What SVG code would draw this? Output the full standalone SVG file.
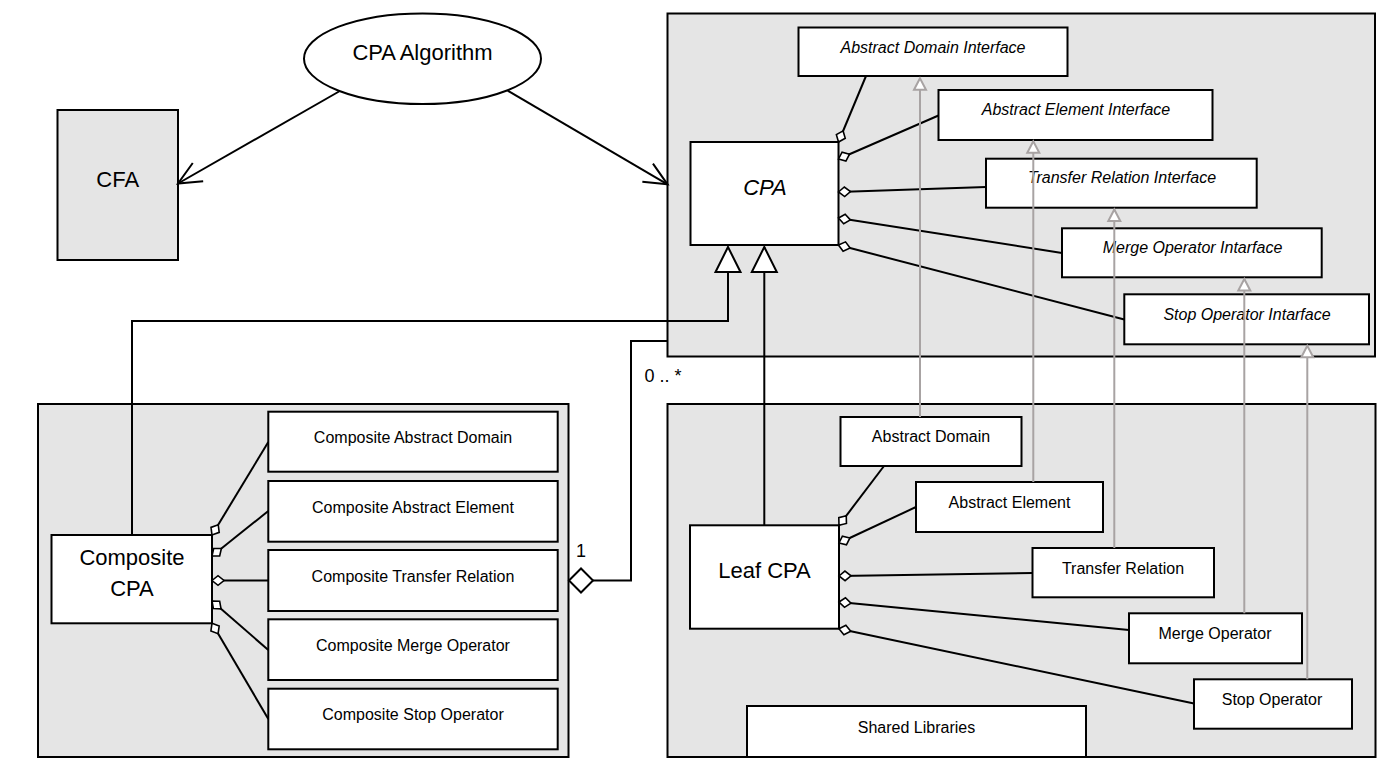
<svg xmlns="http://www.w3.org/2000/svg" width="1395" height="774" viewBox="0 0 1395 774">
<style>
.bg{fill:#fff}
.cont{fill:#e5e5e5;stroke:#000;stroke-width:2}
.box{fill:#fff;stroke:#000;stroke-width:2}
.t{font-family:"Liberation Sans",Arial,sans-serif;fill:#000;text-anchor:middle}
.big{font-size:22px}
.sm{font-size:16px}
.lab{font-size:18px}
.it{font-style:italic}
.ln{fill:none;stroke:#000;stroke-width:2}
.agg{marker-start:url(#dia)}
.gray{fill:none;stroke:#a8a3a3;stroke-width:2;marker-end:url(#gtri)}
</style>
<defs>
<marker id="dia" markerUnits="userSpaceOnUse" orient="auto" refX="0" refY="0" markerWidth="14" markerHeight="12" overflow="visible"><path d="M0,0 L6,-4.8 L12,0 L6,4.8 z" fill="#fff" stroke="#000" stroke-width="1.6"/></marker>
<marker id="bigdia" markerUnits="userSpaceOnUse" orient="auto" refX="0" refY="0" markerWidth="26" markerHeight="26" overflow="visible"><path d="M0,0 L12,-12 L24,0 L12,12 z" fill="#fff" stroke="#000" stroke-width="2"/></marker>
<marker id="tri" markerUnits="userSpaceOnUse" orient="auto" refX="0" refY="0" markerWidth="26" markerHeight="26" overflow="visible"><path d="M0,0 L-25,-12.5 L-25,12.5 z" fill="#fff" stroke="#000" stroke-width="2"/></marker>
<marker id="gtri" markerUnits="userSpaceOnUse" orient="auto" refX="0" refY="0" markerWidth="14" markerHeight="14" overflow="visible"><path d="M0,0 L-11.5,-6 L-11.5,6 z" fill="#fff" stroke="#a8a3a3" stroke-width="2"/></marker>
<marker id="open" markerUnits="userSpaceOnUse" orient="auto" refX="0" refY="0" markerWidth="26" markerHeight="24" overflow="visible"><path d="M-23,-10.5 L0,0 L-23,10.5" fill="none" stroke="#000" stroke-width="2"/></marker>
</defs>
<rect class="bg" x="0" y="0" width="1395" height="774"/>

<g id="container-cpa"><rect class="cont" x="667.5" y="13.5" width="707.5" height="343"/></g>
<g id="container-composite"><rect class="cont" x="38" y="404" width="530.5" height="353"/></g>
<g id="container-leaf"><rect class="cont" x="667.5" y="404" width="708" height="353"/></g>

<g id="cpa-algorithm"><ellipse cx="422.5" cy="58.7" rx="118.5" ry="45.3" fill="#fff" stroke="#000" stroke-width="2"/><text class="t big" x="422.5" y="60">CPA Algorithm</text></g>
<g id="cfa"><rect x="57.5" y="110" width="120.5" height="150" fill="#e5e5e5" stroke="#000" stroke-width="2"/><text class="t big" x="117.7" y="187">CFA</text></g>

<g id="cpa"><rect class="box" x="690.5" y="142" width="148" height="103"/><text class="t big it" x="765" y="195">CPA</text></g>
<g id="abstract-domain-interface"><rect class="box" x="798.5" y="27.5" width="269" height="48.5"/><text class="t sm it" x="933" y="52.5">Abstract Domain Interface</text></g>
<g id="abstract-element-interface"><rect class="box" x="938.5" y="90" width="274" height="50"/><text class="t sm it" x="1076" y="115">Abstract Element Interface</text></g>
<g id="transfer-relation-interface"><rect class="box" x="986" y="158.7" width="270.7" height="49"/><text class="t sm it" x="1122" y="183">Transfer Relation Interface</text></g>
<g id="merge-operator-interface"><rect class="box" x="1062" y="228.3" width="259.7" height="49"/><text class="t sm it" x="1192.5" y="253.3">Merge Operator Intarface</text></g>
<g id="stop-operator-interface"><rect class="box" x="1124.3" y="294.3" width="244.7" height="50"/><text class="t sm it" x="1247" y="320">Stop Operator Intarface</text></g>

<g id="composite-cpa"><rect class="box" x="51.5" y="535" width="160.5" height="88.3"/><text class="t big" x="132" y="565">Composite</text><text class="t big" x="132" y="596">CPA</text></g>
<g id="composite-abstract-domain"><rect class="box" x="268.3" y="411.7" width="289.4" height="60"/><text class="t sm" x="413" y="443.3">Composite Abstract Domain</text></g>
<g id="composite-abstract-element"><rect class="box" x="268.3" y="481" width="289.4" height="60.7"/><text class="t sm" x="413" y="512.7">Composite Abstract Element</text></g>
<g id="composite-transfer-relation"><rect class="box" x="268.3" y="550" width="289.4" height="61"/><text class="t sm" x="413" y="582">Composite Transfer Relation</text></g>
<g id="composite-merge-operator"><rect class="box" x="268.3" y="619.3" width="289.4" height="60.7"/><text class="t sm" x="413" y="651">Composite Merge Operator</text></g>
<g id="composite-stop-operator"><rect class="box" x="268.3" y="688.7" width="289.4" height="60.6"/><text class="t sm" x="413" y="720">Composite Stop Operator</text></g>

<g id="leaf-cpa"><rect class="box" x="690" y="525.3" width="149" height="103.4"/><text class="t big" x="764.5" y="578">Leaf CPA</text></g>
<g id="abstract-domain"><rect class="box" x="840.5" y="417" width="181" height="49"/><text class="t sm" x="931" y="442">Abstract Domain</text></g>
<g id="abstract-element"><rect class="box" x="916" y="482" width="187" height="50"/><text class="t sm" x="1009.5" y="508">Abstract Element</text></g>
<g id="transfer-relation"><rect class="box" x="1032.5" y="548" width="181.5" height="49.3"/><text class="t sm" x="1123" y="574">Transfer Relation</text></g>
<g id="merge-operator"><rect class="box" x="1129" y="613.3" width="173" height="50"/><text class="t sm" x="1215" y="639.3">Merge Operator</text></g>
<g id="stop-operator"><rect class="box" x="1194" y="679.3" width="158" height="49.4"/><text class="t sm" x="1272" y="705">Stop Operator</text></g>
<g id="shared-libraries"><rect class="box" x="747" y="706" width="339" height="51"/><text class="t sm" x="916.5" y="733.3">Shared Libraries</text></g>

<g id="connectors">
<line class="ln" x1="339" y1="91.5" x2="178" y2="183.5" marker-end="url(#open)"/>
<line class="ln" x1="507.7" y1="90.7" x2="667.5" y2="184.3" marker-end="url(#open)"/>

<polyline class="ln" points="132,535 132,321 728,321 728,247" marker-end="url(#tri)"/>
<polyline class="ln" points="764.3,525.3 764.3,247" marker-end="url(#tri)"/>
<polyline class="ln" points="569,580.5 631,580.5 631,341 667.5,341" marker-start="url(#bigdia)"/>

<line class="ln agg" x1="838.5" y1="142" x2="866" y2="76"/>
<line class="ln agg" x1="838.5" y1="159" x2="938.5" y2="115.5"/>
<line class="ln agg" x1="838.5" y1="192" x2="986" y2="187"/>
<line class="ln agg" x1="838.5" y1="218" x2="1062" y2="253"/>
<line class="ln agg" x1="838.5" y1="245" x2="1124.3" y2="319.5"/>

<line class="ln agg" x1="212" y1="535" x2="268.3" y2="442"/>
<line class="ln agg" x1="212" y1="556" x2="268.3" y2="511"/>
<line class="ln agg" x1="212" y1="580.5" x2="268.3" y2="580.5"/>
<line class="ln agg" x1="212" y1="601" x2="268.3" y2="650"/>
<line class="ln agg" x1="212" y1="623.3" x2="268.3" y2="719"/>

<line class="ln agg" x1="839" y1="525.3" x2="884" y2="466"/>
<line class="ln agg" x1="839" y1="543" x2="916" y2="507"/>
<line class="ln agg" x1="839" y1="576" x2="1032.5" y2="573"/>
<line class="ln agg" x1="839" y1="602" x2="1129" y2="630"/>
<line class="ln agg" x1="839" y1="628.7" x2="1194" y2="703.5"/>

<line class="gray" x1="920" y1="417" x2="920" y2="78.3"/>
<line class="gray" x1="1033.3" y1="482" x2="1033.3" y2="141.3"/>
<line class="gray" x1="1114.3" y1="548" x2="1114.3" y2="209.5"/>
<line class="gray" x1="1244.3" y1="613.3" x2="1244.3" y2="279"/>
<line class="gray" x1="1307.3" y1="679.3" x2="1307.3" y2="345.8"/>

<text class="t lab" x="663" y="381.5">0 .. *</text>
<text class="t lab" x="581" y="556.5">1</text>
</g>
</svg>
